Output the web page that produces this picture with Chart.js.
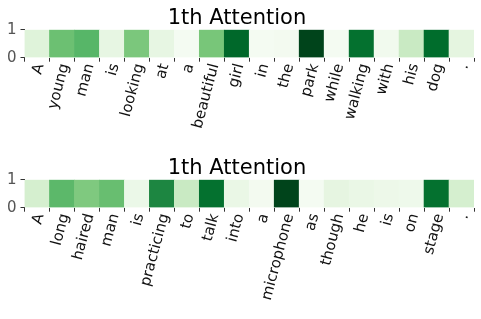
<!DOCTYPE html>
<html lang="en">
<head>
    <meta charset="UTF-8">
    <title>1th Attention</title>
    <style>
        body {
            margin: 0;
            padding: 0;
            background: #ffffff;
            width: 481px;
            height: 319px;
            position: relative;
            overflow: hidden;
        }
        canvas {
            position: absolute;
            left: 0;
        }
        #top-chart { top: 0; }
        #bottom-chart { top: 150px; }
    </style>
    <script src="https://cdn.jsdelivr.net/npm/chart.js"></script>
</head>
<body>
    <canvas id="top-chart" width="481" height="150"></canvas>
    <canvas id="bottom-chart" width="481" height="169"></canvas>

    <script>
        // sentence 1
        const wordsTop = ['A', 'young', 'man', 'is', 'looking', 'at', 'a', 'beautiful', 'girl',
            'in', 'the', 'park', 'while', 'walking', 'with', 'his', 'dog', '.'];
        const attnTop = [0.15, 0.52, 0.57, 0.11, 0.48, 0.11, 0.02, 0.49, 0.89,
            0.02, 0.03, 1.0, 0.02, 0.86, 0.04, 0.24, 0.875, 0.125];

        // sentence 2
        const wordsBottom = ['A', 'long', 'haired', 'man', 'is', 'practicing', 'to', 'talk', 'into',
            'a', 'microphone', 'as', 'though', 'he', 'is', 'on', 'stage', '.'];
        const attnBottom = [0.19, 0.56, 0.47, 0.53, 0.08, 0.77, 0.24, 0.86, 0.09,
            0.03, 1.0, 0.02, 0.12, 0.09, 0.07, 0.06, 0.86, 0.19];

        const yTicks = [0, 1];

        // matplotlib "Greens" colormap
        const greens = ['#f7fcf5', '#e5f5e0', '#c7e9c0', '#a1d99b', '#74c476',
            '#41ab5d', '#238b45', '#006d2c', '#00441b'];

        function hexToRgb(h) {
            return [1, 3, 5].map(i => parseInt(h.substr(i, 2), 16));
        }

        function greenOf(v) {
            const t = Math.min(Math.max(v, 0), 1) * (greens.length - 1);
            const i = Math.min(Math.floor(t), greens.length - 2);
            const f = t - i;
            const a = hexToRgb(greens[i]);
            const b = hexToRgb(greens[i + 1]);
            const c = a.map((x, k) => Math.round(x + (b[k] - x) * f));
            return `rgb(${c[0]}, ${c[1]}, ${c[2]})`;
        }

        Chart.defaults.font.family = "'DejaVu Sans', sans-serif";
        Chart.defaults.animation = false;

        function drawStrip(canvasId, words, weights) {
            const canvas = document.getElementById(canvasId);
            const axisHeight = canvas.height - 57.7;
            return new Chart(canvas.getContext('2d'), {
                type: 'bar',
                data: {
                    labels: words,
                    datasets: [{
                        data: words.map(() => yTicks[1]),
                        backgroundColor: weights.map(greenOf),
                        borderWidth: 0,
                        barPercentage: 1,
                        categoryPercentage: 1
                    }]
                },
                options: {
                    responsive: false,
                    devicePixelRatio: 1,
                    layout: { padding: { left: 0, right: 7, top: 0, bottom: 0 } },
                    plugins: {
                        legend: { display: false },
                        tooltip: { enabled: false },
                        title: {
                            display: true,
                            text: '1th Attention',
                            color: '#000000',
                            font: { size: 21, weight: 'normal', lineHeight: 1.2 },
                            padding: { top: 6, bottom: -1.5 }
                        }
                    },
                    scales: {
                        x: {
                            offset: true,
                            border: { display: false },
                            grid: {
                                offset: true,
                                drawOnChartArea: false,
                                drawTicks: true,
                                tickLength: 4,
                                color: ctx => ctx.index >= words.length ? 'rgba(0,0,0,0)' : '#333333'
                            },
                            ticks: {
                                autoSkip: false,
                                minRotation: 75,
                                maxRotation: 75,
                                labelOffset: 3,
                                padding: 0,
                                color: '#111111',
                                font: { size: 15 }
                            },
                            afterFit: s => { s.height = axisHeight; }
                        },
                        y: {
                            min: yTicks[0],
                            max: yTicks[1],
                            border: { display: false },
                            grid: {
                                drawOnChartArea: false,
                                drawTicks: true,
                                tickLength: 4,
                                color: '#333333'
                            },
                            ticks: {
                                stepSize: 1,
                                padding: 4,
                                color: '#555555',
                                font: { size: 15 }
                            },
                            afterFit: s => { s.width = 24.5; }
                        }
                    }
                }
            });
        }

        drawStrip('top-chart', wordsTop, attnTop);
        drawStrip('bottom-chart', wordsBottom, attnBottom);
    </script>
</body>
</html>
